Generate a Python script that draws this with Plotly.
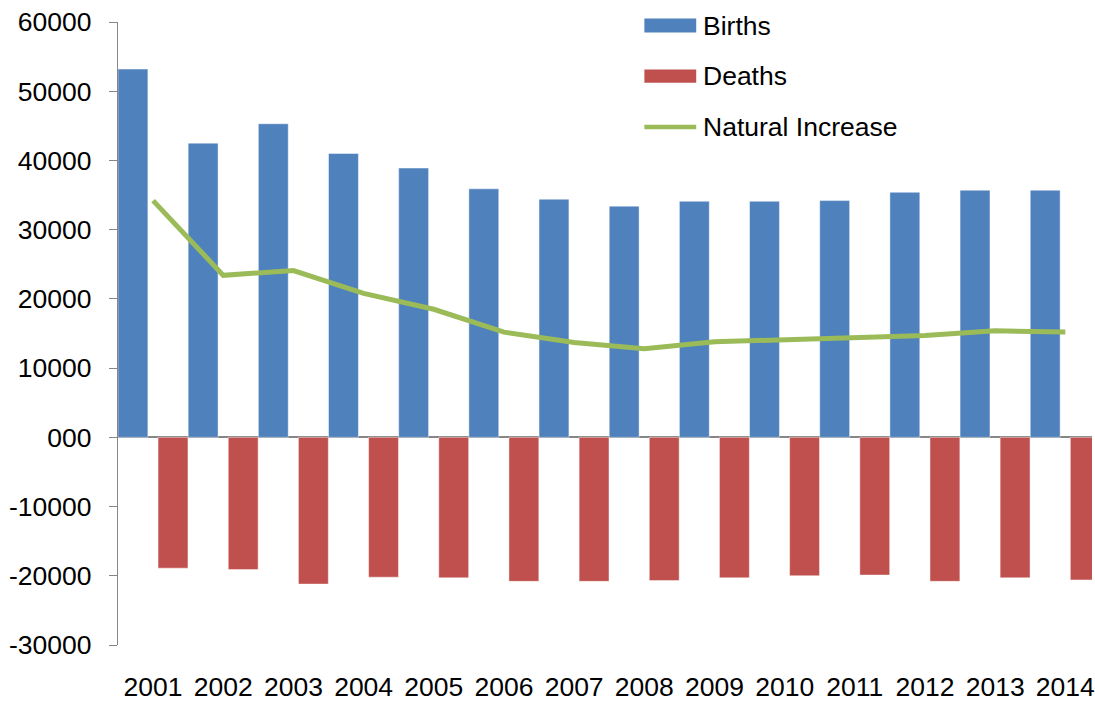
import plotly.graph_objects as go

years = ["2001", "2002", "2003", "2004", "2005", "2006", "2007",
         "2008", "2009", "2010", "2011", "2012", "2013", "2014"]
births = [53200, 42500, 45300, 41000, 38900, 35900, 34400,
          33400, 34100, 34100, 34200, 35400, 35700, 35700]
deaths = [-18900, -19100, -21200, -20200, -20300, -20800, -20800,
          -20700, -20300, -20000, -19900, -20800, -20300, -20600]
natural_increase = [34200, 23400, 24100, 20800, 18500, 15200, 13700,
                    12800, 13800, 14100, 14300, 14700, 15400, 15200]
y_tick_vals = [-30000, -20000, -10000, 0, 10000, 20000, 30000, 40000, 50000, 60000]
y_tick_text = ["-30000", "-20000", "-10000", "000", "10000", "20000",
               "30000", "40000", "50000", "60000"]

BLUE = "#4F81BD"
RED = "#C0504D"
GREEN = "#9BBB59"
GREY = "#868686"
FONT = "Liberation Sans, Arial, sans-serif"
FS = 26.5

fig = go.Figure()
fig.add_trace(go.Bar(x=years, y=births, name="Births", marker_color=BLUE,
                     marker_line=dict(color="rgba(255,255,255,0.45)", width=1),
                     offset=-0.5, width=0.426, showlegend=False))
fig.add_trace(go.Bar(x=years, y=deaths, name="Deaths", marker_color=RED,
                     marker_line=dict(color="rgba(255,255,255,0.45)", width=1),
                     offset=0.071, width=0.426, showlegend=False))
fig.add_trace(go.Scatter(x=years, y=natural_increase, name="Natural Increase",
                         mode="lines", line=dict(color=GREEN, width=5),
                         showlegend=False))

W, H = 1095, 702
ml, mr, mt = 118, 0, 22.4
mb = H - 648.3
pw, ph = W - ml - mr, H - mt - mb

def px(x):
    return (x - ml) / pw

def py(y):
    return (H - mb - y) / ph

shapes = [
    dict(type="rect", xref="paper", yref="paper", x0=px(646), x1=px(698),
         y0=py(33), y1=py(19), fillcolor=BLUE, line=dict(width=0)),
    dict(type="rect", xref="paper", yref="paper", x0=px(646), x1=px(698),
         y0=py(83.5), y1=py(70), fillcolor=RED, line=dict(width=0)),
    dict(type="line", xref="paper", yref="paper", x0=px(646), x1=px(698),
         y0=py(128), y1=py(128), line=dict(color=GREEN, width=4.5)),
]
annotations = [
    dict(xref="paper", yref="paper", x=px(703), y=py(y), text=t, showarrow=False,
         xanchor="left", yanchor="middle", font=dict(size=FS, color="black", family=FONT))
    for t, y in [("Births", 26), ("Deaths", 77), ("Natural Increase", 128)]
]

fig.update_layout(
    width=W, height=H,
    margin=dict(l=ml, r=mr, t=mt, b=mb),
    paper_bgcolor="white", plot_bgcolor="white",
    barmode="overlay",
    font=dict(family=FONT, size=FS, color="black"),
    shapes=shapes, annotations=annotations,
    xaxis=dict(type="category", range=[-0.5, 13.38], showgrid=False, showline=False,
               zeroline=False, ticks="", ticklabelstandoff=23,
               ticklabeloverflow="allow",
               tickfont=dict(size=FS, family=FONT, color="black")),
    yaxis=dict(range=[-30000, 60000], tickvals=y_tick_vals, ticktext=y_tick_text,
               showgrid=False, showline=True, linecolor=GREY, linewidth=1.3,
               ticks="outside", ticklen=8, tickcolor=GREY, tickwidth=1.3,
               zeroline=True, zerolinecolor=GREY, zerolinewidth=1.5,
               ticklabelstandoff=12, ticklabeloverflow="allow",
               tickfont=dict(size=FS, family=FONT, color="black")),
)

# remove the browser's default body margin so the page is exactly the figure size
fig.write_html("out.html",
               config={"displayModeBar": False},
               post_script="document.body.style.margin='0';document.body.style.padding='0';document.body.style.overflow='hidden';")
